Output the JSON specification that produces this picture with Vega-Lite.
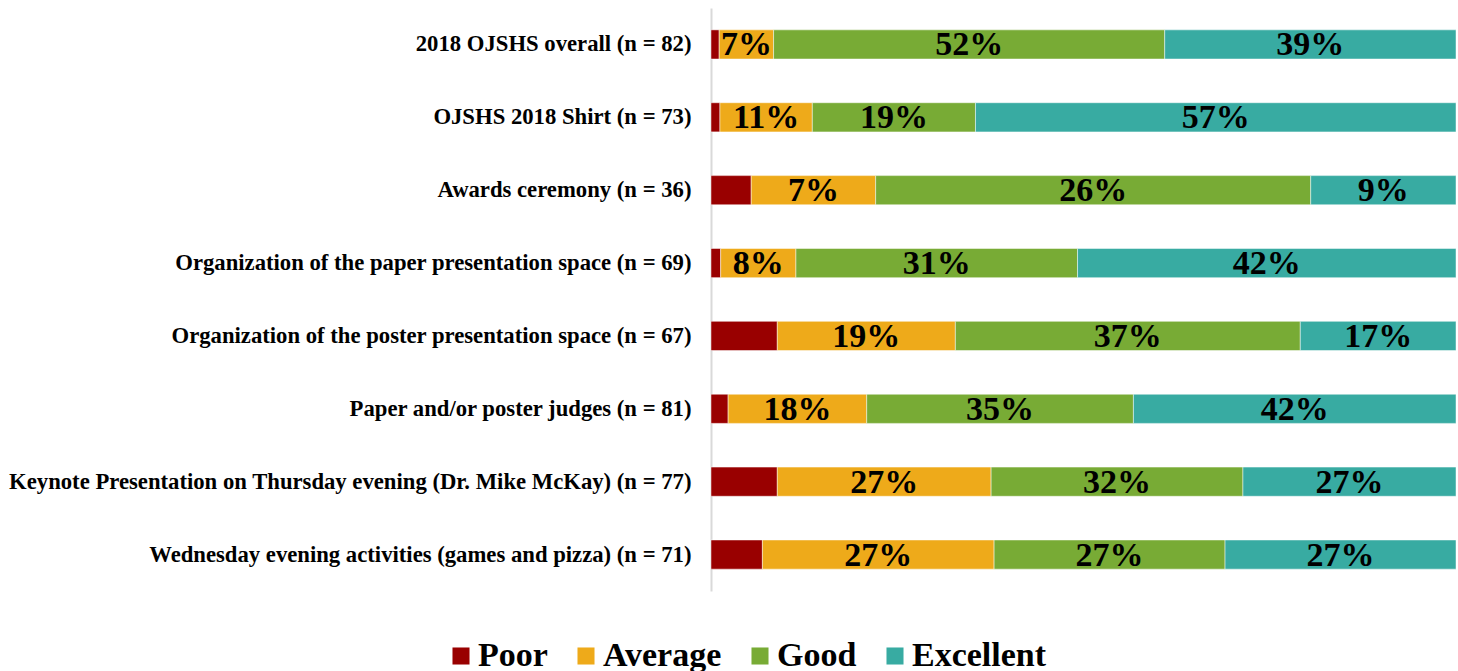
{
  "$schema": "https://vega.github.io/schema/vega-lite/v6.json",
  "width": 745,
  "height": 583,
  "autosize": "none",
  "padding": {"left": 711, "top": 8, "right": 2, "bottom": 80},
  "background": "white",
  "config": {"view": {"stroke": null}},
  "data": {
    "values": [
      {"item": "2018 OJSHS overall (n = 82)", "rating": "Poor", "rank": 1, "pct": 1.1, "label": ""},
      {"item": "2018 OJSHS overall (n = 82)", "rating": "Average", "rank": 2, "pct": 7.3, "label": "7%"},
      {"item": "2018 OJSHS overall (n = 82)", "rating": "Good", "rank": 3, "pct": 52.5, "label": "52%"},
      {"item": "2018 OJSHS overall (n = 82)", "rating": "Excellent", "rank": 4, "pct": 39.1, "label": "39%"},
      {"item": "OJSHS 2018 Shirt (n = 73)", "rating": "Poor", "rank": 1, "pct": 1.2, "label": ""},
      {"item": "OJSHS 2018 Shirt (n = 73)", "rating": "Average", "rank": 2, "pct": 12.4, "label": "11%"},
      {"item": "OJSHS 2018 Shirt (n = 73)", "rating": "Good", "rank": 3, "pct": 21.9, "label": "19%"},
      {"item": "OJSHS 2018 Shirt (n = 73)", "rating": "Excellent", "rank": 4, "pct": 64.5, "label": "57%"},
      {"item": "Awards ceremony (n = 36)", "rating": "Poor", "rank": 1, "pct": 5.4, "label": ""},
      {"item": "Awards ceremony (n = 36)", "rating": "Average", "rank": 2, "pct": 16.7, "label": "7%"},
      {"item": "Awards ceremony (n = 36)", "rating": "Good", "rank": 3, "pct": 58.4, "label": "26%"},
      {"item": "Awards ceremony (n = 36)", "rating": "Excellent", "rank": 4, "pct": 19.5, "label": "9%"},
      {"item": "Organization of the paper presentation space (n = 69)", "rating": "Poor", "rank": 1, "pct": 1.3, "label": ""},
      {"item": "Organization of the paper presentation space (n = 69)", "rating": "Average", "rank": 2, "pct": 10.1, "label": "8%"},
      {"item": "Organization of the paper presentation space (n = 69)", "rating": "Good", "rank": 3, "pct": 37.8, "label": "31%"},
      {"item": "Organization of the paper presentation space (n = 69)", "rating": "Excellent", "rank": 4, "pct": 50.8, "label": "42%"},
      {"item": "Organization of the poster presentation space (n = 67)", "rating": "Poor", "rank": 1, "pct": 8.9, "label": ""},
      {"item": "Organization of the poster presentation space (n = 67)", "rating": "Average", "rank": 2, "pct": 23.9, "label": "19%"},
      {"item": "Organization of the poster presentation space (n = 67)", "rating": "Good", "rank": 3, "pct": 46.3, "label": "37%"},
      {"item": "Organization of the poster presentation space (n = 67)", "rating": "Excellent", "rank": 4, "pct": 20.9, "label": "17%"},
      {"item": "Paper and/or poster judges (n = 81)", "rating": "Poor", "rank": 1, "pct": 2.3, "label": ""},
      {"item": "Paper and/or poster judges (n = 81)", "rating": "Average", "rank": 2, "pct": 18.6, "label": "18%"},
      {"item": "Paper and/or poster judges (n = 81)", "rating": "Good", "rank": 3, "pct": 35.8, "label": "35%"},
      {"item": "Paper and/or poster judges (n = 81)", "rating": "Excellent", "rank": 4, "pct": 43.3, "label": "42%"},
      {"item": "Keynote Presentation on Thursday evening (Dr. Mike McKay) (n = 77)", "rating": "Poor", "rank": 1, "pct": 8.9, "label": ""},
      {"item": "Keynote Presentation on Thursday evening (Dr. Mike McKay) (n = 77)", "rating": "Average", "rank": 2, "pct": 28.7, "label": "27%"},
      {"item": "Keynote Presentation on Thursday evening (Dr. Mike McKay) (n = 77)", "rating": "Good", "rank": 3, "pct": 33.8, "label": "32%"},
      {"item": "Keynote Presentation on Thursday evening (Dr. Mike McKay) (n = 77)", "rating": "Excellent", "rank": 4, "pct": 28.6, "label": "27%"},
      {"item": "Wednesday evening activities (games and pizza) (n = 71)", "rating": "Poor", "rank": 1, "pct": 6.9, "label": ""},
      {"item": "Wednesday evening activities (games and pizza) (n = 71)", "rating": "Average", "rank": 2, "pct": 31.1, "label": "27%"},
      {"item": "Wednesday evening activities (games and pizza) (n = 71)", "rating": "Good", "rank": 3, "pct": 31.0, "label": "27%"},
      {"item": "Wednesday evening activities (games and pizza) (n = 71)", "rating": "Excellent", "rank": 4, "pct": 31.0, "label": "27%"}
    ]
  },
  "transform": [
    {"stack": "pct", "groupby": ["item"], "sort": [{"field": "rank", "order": "ascending"}], "as": ["x0", "x1"]},
    {"calculate": "(datum.x0 + datum.x1) / 2", "as": "xm"}
  ],
  "encoding": {
    "y": {
      "field": "item",
      "type": "nominal",
      "sort": null,
      "title": null,
      "scale": {"paddingInner": 0.6, "paddingOuter": 0.3},
      "axis": {
        "ticks": false,
        "domainColor": "#d9d9d9",
        "domainWidth": 2,
        "labelFont": "Liberation Serif",
        "labelFontWeight": "bold",
        "labelFontSize": 22.7,
        "labelColor": "#000000",
        "labelPadding": 20,
        "labelLimit": 0
      }
    }
  },
  "layer": [
    {
      "mark": {"type": "bar", "stroke": "#ffffff", "strokeWidth": 0.6, "strokeOpacity": 0.8},
      "encoding": {
        "x": {"field": "x0", "type": "quantitative", "scale": {"domain": [0, 100], "nice": false}, "axis": null},
        "x2": {"field": "x1"},
        "color": {
          "field": "rating",
          "type": "nominal",
          "sort": ["Poor", "Average", "Good", "Excellent"],
          "scale": {"domain": ["Poor", "Average", "Good", "Excellent"], "range": ["#990000", "#EEAA1A", "#78AB35", "#38ABA2"]},
          "legend": {
            "title": null,
            "orient": "none",
            "legendX": -267,
            "legendY": 631,
            "direction": "horizontal",
            "columns": 4,
            "symbolType": "square",
            "symbolSize": 290,
            "symbolStrokeWidth": 0,
            "labelFont": "Liberation Serif",
            "labelFontWeight": "bold",
            "labelFontSize": 34,
            "labelColor": "#000000",
            "labelOffset": 0,
            "columnPadding": 21,
            "labelLimit": 0
          }
        }
      }
    },
    {
      "transform": [{"filter": "datum.label != ''"}],
      "mark": {"type": "text", "font": "Liberation Serif", "fontWeight": "bold", "fontSize": 34, "color": "#000000", "baseline": "middle", "dy": 1},
      "encoding": {
        "x": {"field": "xm", "type": "quantitative", "scale": {"domain": [0, 100], "nice": false}},
        "text": {"field": "label"}
      }
    }
  ]
}
